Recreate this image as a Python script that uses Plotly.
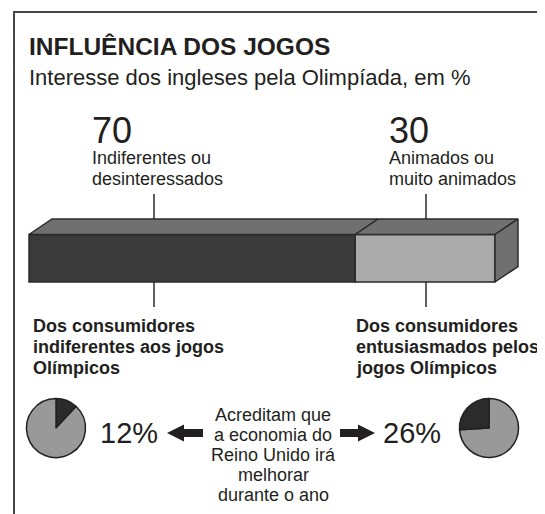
import plotly.graph_objects as go

# ---------------- data ----------------
interest_values = [70, 30]
interest_labels = [["Indiferentes ou", "desinteressados"],
                   ["Animados ou", "muito animados"]]
group_labels = [["Dos consumidores", "indiferentes aos jogos", "Olímpicos"],
                ["Dos consumidores", "entusiasmados pelos", "jogos Olímpicos"]]
optimism_values = [12, 26]
center_text = ["Acreditam que", "a economia do", "Reino Unido irá", "melhorar", "durante o ano"]
title = "INFLUÊNCIA DOS JOGOS"
subtitle = "Interesse dos ingleses pela Olimpíada, em %"

# ---------------- layout constants (page pixel coordinates) ----------------
W, H = 545, 514
OFF = 8                       # default body margin of the page
FW, FH = W - OFF, H - OFF     # figure size so it fits the window
FONT = "Liberation Sans, Arial, Helvetica, sans-serif"
TXT = "#231f20"
BAR_X0, BAR_X1 = 29, 495          # page pixel extent of 0..100 %
K = (BAR_X1 - BAR_X0) / 100.0
BAR_TOP, BAR_BOT = 234.5, 282
DEPTH_X, DEPTH_Y = 23, 15.5
DXU = DEPTH_X / K
FRONT_COLORS = ["#3a3a3a", "#ababab"]
TOP_COLOR = "#707070"
EDGE = "#2b2b2b"
PIE_DARK, PIE_LIGHT = "#2b2b2b", "#999999"
FRAME = "#474747"


def px(x):
    return (x - OFF) / FW


def py(y):
    return 1 - (y - OFF) / FH


def ux(x):
    """page pixel x -> x-axis units"""
    return (x - BAR_X0) / K


fig = go.Figure()

# frame (open at bottom)
FL, FR, FT = 14, 542, 12
fig.add_trace(go.Scatter(
    x=[ux(FL), ux(FL), ux(FR), ux(FR)], y=[H + 10, FT, FT, H + 10],
    mode="lines", line=dict(color=FRAME, width=2), hoverinfo="skip", showlegend=False))

# front faces of the stacked bar
total = sum(interest_values)
bases = [sum(interest_values[:i]) / total * 100 for i in range(len(interest_values))]
widths = [v / total * 100 for v in interest_values]
fig.add_trace(go.Bar(
    x=widths, base=bases, y=[(BAR_TOP + BAR_BOT) / 2] * len(widths),
    width=BAR_BOT - BAR_TOP, orientation="h",
    marker=dict(color=FRONT_COLORS, line=dict(color=EDGE, width=1.5)),
    hoverinfo="skip", showlegend=False))

# top faces
for b, w in zip(bases, widths):
    fig.add_trace(go.Scatter(
        x=[b, b + w, b + w + DXU, b + DXU, b],
        y=[BAR_TOP, BAR_TOP, BAR_TOP - DEPTH_Y, BAR_TOP - DEPTH_Y, BAR_TOP],
        mode="lines", fill="toself", fillcolor=TOP_COLOR,
        line=dict(color=EDGE, width=1.5), hoverinfo="skip", showlegend=False))
# right side face
end = bases[-1] + widths[-1]
fig.add_trace(go.Scatter(
    x=[end, end + DXU, end + DXU, end, end],
    y=[BAR_TOP, BAR_TOP - DEPTH_Y, BAR_BOT - DEPTH_Y, BAR_BOT, BAR_TOP],
    mode="lines", fill="toself", fillcolor=TOP_COLOR,
    line=dict(color=EDGE, width=1.5), hoverinfo="skip", showlegend=False))

# pies (dark slice right of 12 o'clock on the left pie, left of it on the right pie)
PIE_R = 29.5
PIE_CY = 428
pie_cx = [56, 489]
for j, (cx, v) in enumerate(zip(pie_cx, optimism_values)):
    if j == 0:
        vals, cols = [v, 100 - v], [PIE_DARK, PIE_LIGHT]
    else:
        vals, cols = [100 - v, v], [PIE_LIGHT, PIE_DARK]
    fig.add_trace(go.Pie(
        values=vals, sort=False, direction="clockwise", rotation=0,
        marker=dict(colors=cols, line=dict(color="#222222", width=1.5)),
        textinfo="none", hoverinfo="skip", showlegend=False,
        domain=dict(x=[px(cx - PIE_R), px(cx + PIE_R)],
                    y=[py(PIE_CY + PIE_R), py(PIE_CY - PIE_R)])))

annotations = []


def text(x, baseline, s, size, bold=False, anchor="left"):
    annotations.append(dict(
        x=px(x), xref="paper", y=baseline + 0.22 * size, yref="y",
        xanchor=anchor, yanchor="bottom", borderpad=0, showarrow=False,
        text=("<b>%s</b>" % s) if bold else s,
        font=dict(family=FONT, size=size, color=TXT)))


text(28, 56, title, 24.5, bold=True)
text(28, 86, subtitle, 22)

num_x = [91, 388]
for nx, v, lines in zip(num_x, interest_values, interest_labels):
    text(nx, 144, str(v), 36)
    for i, ln in enumerate(lines):
        text(nx, 165 + 21 * i, ln, 18)

grp_x = [32, 355]
for gx, lines in zip(grp_x, group_labels):
    for i, ln in enumerate(lines):
        text(gx, 333 + 21 * i, ln, 18, bold=True)

pct_x = [99, 382]
for px_, v in zip(pct_x, optimism_values):
    text(px_, 444, "%d%%" % v, 29)

for i, ln in enumerate(center_text):
    text(273, 422 + 20 * i, ln, 18, anchor="center")

shapes = []
# leader lines
for lx in [154, 426]:
    shapes.append(dict(type="line", xref="paper", yref="paper", x0=px(lx), x1=px(lx),
                       y0=py(194), y1=py(BAR_TOP - DEPTH_Y), line=dict(color=EDGE, width=1.5)))
    shapes.append(dict(type="line", xref="paper", yref="paper", x0=px(lx), x1=px(lx),
                       y0=py(BAR_BOT), y1=py(307), line=dict(color=EDGE, width=1.5)))


def arrow(tip, tail, cy, head_len=17, head_h=17, shaft_h=8):
    sgn = 1 if tail > tip else -1
    hb = tip + sgn * head_len
    pts = [(tip, cy), (hb, cy - head_h / 2), (hb, cy - shaft_h / 2), (tail, cy - shaft_h / 2),
           (tail, cy + shaft_h / 2), (hb, cy + shaft_h / 2), (hb, cy + head_h / 2)]
    path = "M " + " L ".join("%f,%f" % (px(x), py(y)) for x, y in pts) + " Z"
    shapes.append(dict(type="path", xref="paper", yref="paper", path=path,
                       fillcolor="#231f20", line=dict(width=0)))


arrow(167, 203, 433)
arrow(375, 340, 433)

fig.update_layout(
    width=FW, height=FH, margin=dict(l=0, r=0, t=0, b=0),
    paper_bgcolor="white", plot_bgcolor="white",
    barmode="overlay",
    xaxis=dict(range=[ux(OFF), ux(W)], domain=[0, 1],
               visible=False, fixedrange=True),
    yaxis=dict(range=[H, OFF], domain=[0, 1], visible=False, fixedrange=True),
    annotations=annotations, shapes=shapes, showlegend=False)

fig.write_html("out.html")
